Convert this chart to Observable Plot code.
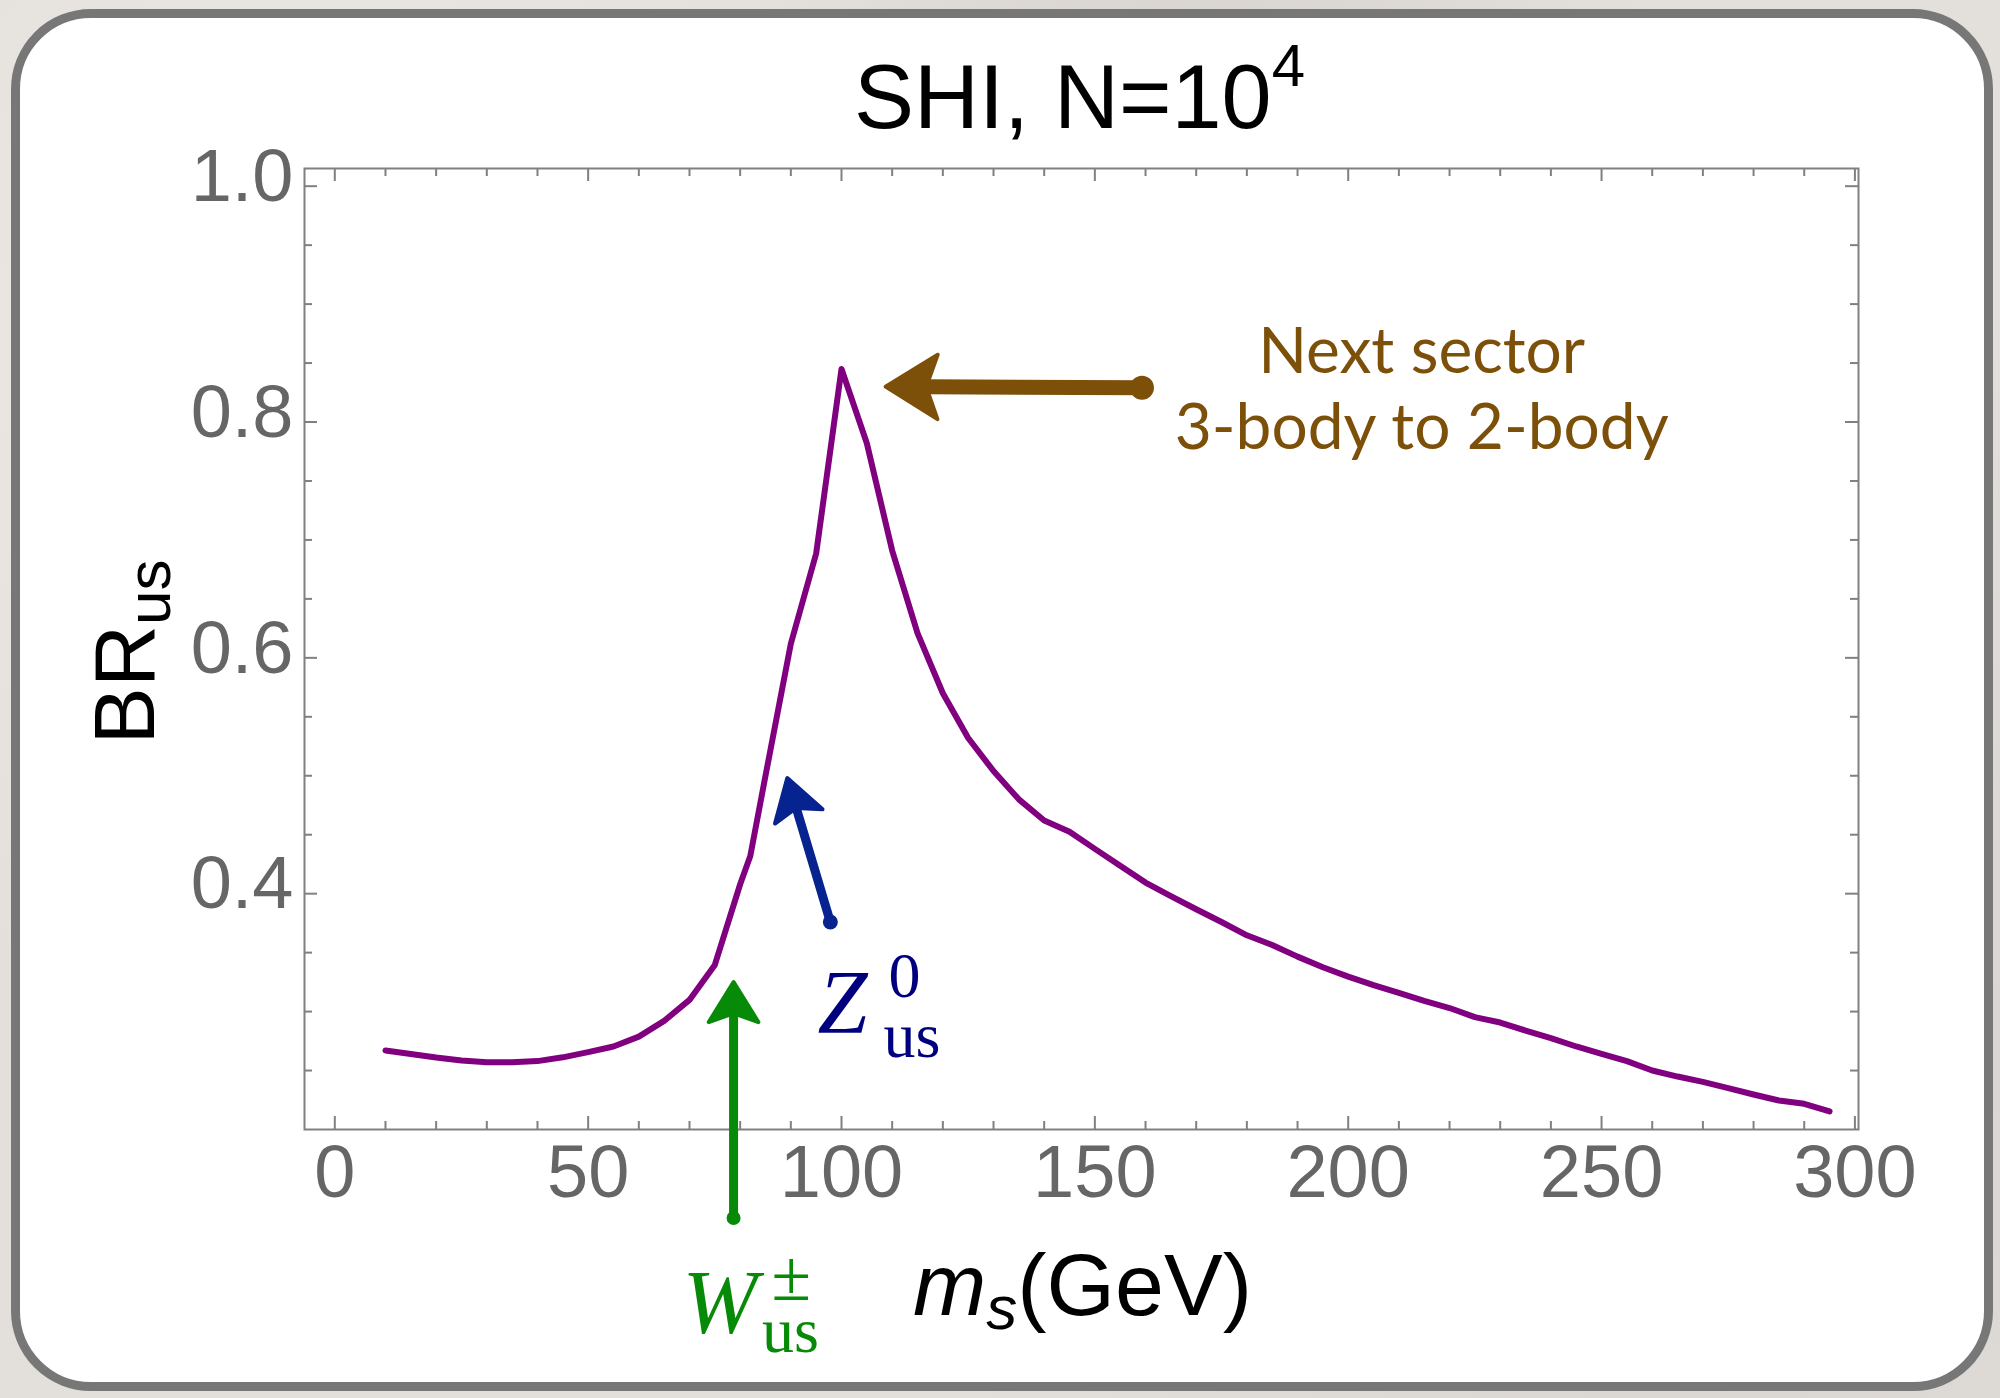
<!DOCTYPE html>
<html><head><meta charset="utf-8">
<script src="https://cdn.jsdelivr.net/npm/d3@7"></script>
<script src="https://cdn.jsdelivr.net/npm/@observablehq/plot@0.6"></script>
<style>
html,body{margin:0;padding:0;width:2000px;height:1398px;overflow:hidden;}
body{position:relative;background-color:#e3dfda;
background-image:radial-gradient(circle at 15% 25%, rgba(255,255,255,0.35) 0, rgba(255,255,255,0) 35%),
radial-gradient(circle at 85% 75%, rgba(190,185,180,0.35) 0, rgba(190,185,180,0) 40%),
radial-gradient(circle at 60% 5%, rgba(200,195,190,0.4) 0, rgba(200,195,190,0) 25%);}
#panel{position:absolute;left:11px;top:9px;width:1964px;height:1364px;background:#fff;border:9px solid #777;border-radius:80px;}
#chart{position:absolute;left:0;top:0;}
</style></head><body>
<div id="panel"></div><div id="chart"></div>
<script>
// ---- data ----
const mass = [10,15,20,25,30,35,40,45,50,55,60,65,70,75,80,82,85,90,95,100,105,110,115,120,125,130,135,140,145,150,155,160,165,170,175,180,185,190,195,200,205,210,215,220,225,230,235,240,245,250,255,260,265,270,275,280,285,290,295];
const br = [0.267,0.264,0.261,0.2585,0.257,0.257,0.258,0.2612,0.2656,0.2704,0.2788,0.2921,0.3099,0.3396,0.408,0.432,0.500,0.612,0.6885,0.845,0.782,0.691,0.621,0.570,0.532,0.504,0.480,0.462,0.4525,0.438,0.4237,0.4094,0.398,0.3868,0.376,0.3647,0.3565,0.3466,0.3376,0.3297,0.3224,0.3158,0.309,0.303,0.2953,0.2907,0.2839,0.2775,0.2704,0.2642,0.258,0.250,0.2449,0.2404,0.2351,0.2297,0.2246,0.2218,0.2153];
const xMajor = [0,50,100,150,200,250,300];
const xMinor = [10,20,30,40,60,70,80,90,110,120,130,140,160,170,180,190,210,220,230,240,260,270,280,290];
const yMajor = [0.4,0.6,0.8,1.0];
const yMinor = [0.25,0.3,0.35,0.45,0.5,0.55,0.65,0.7,0.75,0.85,0.9,0.95];
const titleText = "SHI, N=10^4";
const yLabelText = "BR_us";
const xLabelText = "m_s(GeV)";
const zLabelText = "Z^0_us";
const wLabelText = "W^±_us";
const nextLines = ["Next sector", "3-body to 2-body"];
const nextLabel = {x: 214.5, y: 0.777};
const nextArrow = {x1: 159.3, y1: 0.829, x2: 108.7, y2: 0.830};
const zArrow = {x1: 97.8, y1: 0.376, x2: 89.3, y2: 0.498};
const wArrow = {x1: 78.7, y1: 0.125, x2: 78.7, y2: 0.325};
const zLabel = {x: 95.26, y: 0.282};
const wLabel = {x: 68.6, y: 0.0277};

const data = mass.map((m, i) => ({m, br: br[i]}));

// ---- layout ----
const W = 2000, H = 1398;
const mL = 304, mR = 142, mT = 168, mB = 269;
const xDomain = [-5.98, 300.71];
const yDomain = [0.2, 1.015];
const fw = W - mL - mR, fh = H - mT - mB;
const kx = fw / (xDomain[1] - xDomain[0]);
const ky = fh / (yDomain[1] - yDomain[0]);
const gray = "#808080";
const brown = "#7d500a", blue = "#06238f", navy = "#00007f", green = "#078a07";

// arrowhead symbol with its tip at the origin, pointing up
function headSymbol(spread) {
  return {
    draw(context, size) {
      const L = Math.sqrt(size);
      context.moveTo(0, 0);
      context.lineTo(-spread * L, L);
      context.lineTo(0, 0.78 * L);
      context.lineTo(spread * L, L);
      context.closePath();
    }
  };
}

function arrowMarks(a, color, shaftW, headLen, spread, tailR) {
  const dxp = (a.x2 - a.x1) * kx, dyp = -(a.y2 - a.y1) * ky;
  const L = Math.hypot(dxp, dyp), ux = dxp / L, uy = dyp / L;
  const c = 0.8 * headLen;
  const end = {x: a.x2 - ux * c / kx, y: a.y2 + uy * c / ky};
  const rot = Math.atan2(ux, -uy) * 180 / Math.PI;
  return [
    Plot.link([a], {x1: "x1", y1: "y1", x2: () => end.x, y2: () => end.y, stroke: color, strokeWidth: shaftW, strokeLinecap: "round"}),
    Plot.dot([a], {x: "x2", y: "y2", symbol: headSymbol(spread), r: headLen / Math.sqrt(Math.PI), rotate: rot, fill: color, stroke: color, strokeWidth: 4, strokeLinejoin: "round"}),
    Plot.dot([a], {x: "x1", y: "y1", r: tailR, fill: color})
  ];
}

const serif = "'Liberation Serif', 'DejaVu Serif', serif";

const svg = Plot.plot({
  width: W, height: H,
  marginLeft: mL, marginRight: mR, marginTop: mT, marginBottom: mB,
  x: {domain: xDomain},
  y: {domain: yDomain},
  style: {background: "transparent", fontFamily: "'Liberation Sans', Arial, Helvetica, sans-serif", overflow: "visible"},
  marks: [
    Plot.frame({stroke: gray, strokeWidth: 2}),
    Plot.tickX(xMajor, {x: d => d, insetTop: fh - 13, stroke: gray, strokeWidth: 2}),
    Plot.tickX(xMajor, {x: d => d, insetBottom: fh - 13, stroke: gray, strokeWidth: 2}),
    Plot.tickX(xMinor, {x: d => d, insetTop: fh - 8, stroke: gray, strokeWidth: 2}),
    Plot.tickX(xMinor, {x: d => d, insetBottom: fh - 8, stroke: gray, strokeWidth: 2}),
    Plot.tickY(yMajor, {y: d => d, insetRight: fw - 13, stroke: gray, strokeWidth: 2}),
    Plot.tickY(yMajor, {y: d => d, insetLeft: fw - 13, stroke: gray, strokeWidth: 2}),
    Plot.tickY(yMinor, {y: d => d, insetRight: fw - 8, stroke: gray, strokeWidth: 2}),
    Plot.tickY(yMinor, {y: d => d, insetLeft: fw - 8, stroke: gray, strokeWidth: 2}),
    Plot.axisX(xMajor, {tickSize: 0, tickPadding: 15, fontSize: 74, color: "#666", label: null, tickFormat: d => String(d)}),
    Plot.axisY(yMajor, {tickSize: 0, tickPadding: 11, dy: -9, fontSize: 74, color: "#666", label: null, tickFormat: d3.format(".1f")}),
    Plot.line(data, {x: "m", y: "br", stroke: "#800080", strokeWidth: 6}),
    ...arrowMarks(nextArrow, brown, 15, 52, 0.62, 12),
    ...arrowMarks(zArrow, blue, 9, 40, 0.62, 7.5),
    ...arrowMarks(wArrow, green, 9, 40, 0.62, 7),
    Plot.text([nextLabel], {x: "x", y: "y", text: () => nextLines.join("\n"), fontFamily: "Lato, 'Open Sans', sans-serif", fontWeight: 400, fontSize: 64, lineHeight: 76.5 / 64, lineAnchor: "bottom", fill: brown}),
    Plot.text([zLabel], {x: "x", y: "y", text: () => zLabelText, textAnchor: "start", lineAnchor: "bottom", fontFamily: serif, fontSize: 90, fill: navy}),
    Plot.text([wLabel], {x: "x", y: "y", text: () => wLabelText, textAnchor: "start", lineAnchor: "bottom", fontFamily: serif, fontSize: 90, fill: green}),
    Plot.text([titleText], {text: d => d, frameAnchor: "top", dx: -2, dy: -41, lineAnchor: "bottom", fontSize: 90, fill: "black"}),
    Plot.text([yLabelText], {text: d => d, frameAnchor: "left", textAnchor: "middle", dx: -151, dy: 3, rotate: -90, lineAnchor: "bottom", fontSize: 86, fill: "black"}),
    Plot.text([xLabelText], {text: d => d, frameAnchor: "bottom", dx: 1, dy: 185, lineAnchor: "bottom", fontSize: 88, fill: "black"})
  ]
});
document.getElementById("chart").append(svg);

function rich(placeholder, parts) {
  d3.select(svg).selectAll("text").filter(function () { return this.textContent === placeholder; }).each(function () {
    const t = d3.select(this);
    t.text(null);
    for (const p of parts) {
      const s = t.append("tspan").text(p.text);
      for (const k in (p.attrs || {})) s.attr(k, p.attrs[k]);
    }
  });
}
rich(titleText, [{text: "SHI, N=10"}, {text: "4", attrs: {"font-size": "60px", dy: "-42"}}]);
rich(yLabelText, [{text: "BR"}, {text: "us", attrs: {"font-size": "62px", dy: "16"}}]);
rich(xLabelText, [
  {text: "m", attrs: {"font-style": "italic"}},
  {text: "s", attrs: {"font-style": "italic", "font-size": "62px", dy: "14"}},
  {text: "(GeV)", attrs: {dy: "-14"}}
]);
rich(zLabelText, [
  {text: "Z", attrs: {"font-style": "italic"}},
  {text: "0", attrs: {"font-size": "64px", dx: "21", dy: "-36"}},
  {text: "us", attrs: {"font-size": "64px", dx: "-37", dy: "60"}}
]);
rich(wLabelText, [
  {text: "W", attrs: {"font-style": "italic"}},
  {text: "±", attrs: {"font-size": "72px", dx: "14", dy: "-33"}},
  {text: "us", attrs: {"font-size": "64px", dx: "-49", dy: "52"}}
]);
</script>
</body></html>
